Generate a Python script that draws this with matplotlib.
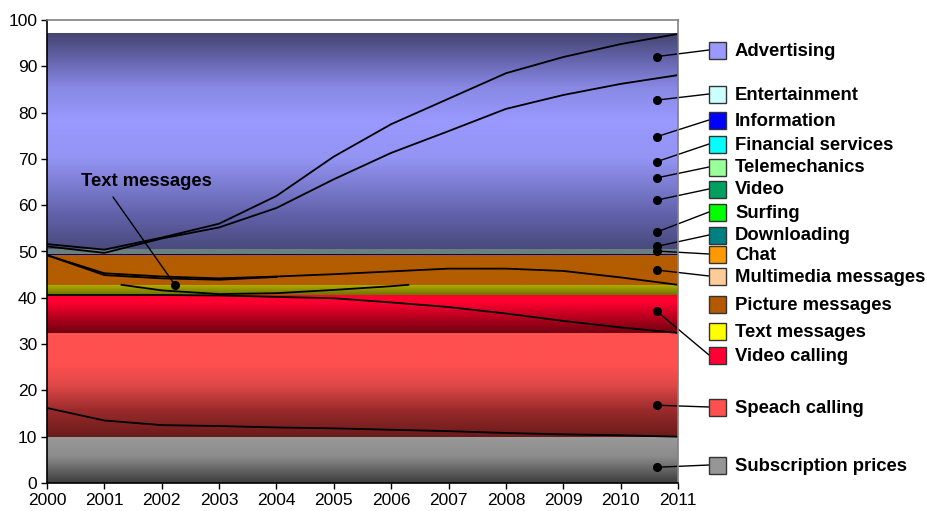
import numpy as np
import matplotlib
matplotlib.use("Agg")
import matplotlib.pyplot as plt
from matplotlib.colors import LinearSegmentedColormap
from matplotlib.patches import Rectangle

plt.rcParams['font.family'] = ['Liberation Sans', 'DejaVu Sans']

years = np.arange(2000, 2012)

# service lines (share, %)
adv_upper = [51.6, 50.4, 53.0, 56.0, 62.0, 70.5, 77.5, 83.0, 88.5, 92.0, 94.8, 97.0]
adv_lower = [51.1, 49.7, 52.8, 55.2, 59.4, 65.6, 71.3, 76.0, 80.8, 83.8, 86.2, 88.1]
picture_msgs = [49.2, 45.3, 44.6, 44.2, 44.6, 45.1, 45.7, 46.3, 46.3, 45.8, 44.4, 42.8]
picture_msgs_2 = [49.2, 44.9, 44.2, 43.9, 44.5, np.nan, np.nan, np.nan, np.nan, np.nan, np.nan, np.nan]
text_years = [2001.3, 2002, 2003, 2004, 2005, 2006, 2006.3]
text_msgs = [42.8, 41.6, 40.8, 41.0, 41.7, 42.5, 42.8]
video_calling = [40.6, 40.6, 40.6, 40.5, 40.2, 39.9, 39.0, 38.0, 36.6, 35.0, 33.6, 32.4]
speach_calling = [16.2, 13.5, 12.5, 12.3, 12.0, 11.8, 11.5, 11.2, 10.8, 10.5, 10.3, 10.0]

# background bands: (bottom, top, gradient stops bottom -> top)
bands = [
    (0.0, 10.0, [(0, '#3c3c3c'), (0.55, '#8a8a8a'), (1, '#9a9a9a')]),
    (10.0, 32.3, [(0, '#6a1a1a'), (0.25, '#982a2a'), (0.5, '#e04848'), (0.7, '#ff5050'), (1, '#ff5050')]),
    (32.3, 40.6, [(0, '#6e0010'), (0.45, '#c00020'), (0.8, '#ff0030'), (1, '#ff0030')]),
    (40.6, 42.8, [(0, '#6e7000'), (1, '#b4b400')]),
    (42.8, 49.2, [(0, '#b45c00'), (1, '#b45c00')]),
    (49.2, 49.5, [(0, '#000080'), (1, '#000080')]),
    (49.5, 50.5, [(0, '#6a8080'), (1, '#6a8080')]),
    (50.5, 97.0, [(0, '#4a4a7e'), (0.15, '#6060a8'), (0.42, '#9494f4'), (0.6, '#9999ff'),
                  (0.75, '#8888e4'), (0.88, '#6464ac'), (1, '#444470')]),
]

# legend entries: label, colour, dot value (None = no leader), label y in pixels
legend_labels = ['Advertising', 'Entertainment', 'Information', 'Financial services',
                 'Telemechanics', 'Video', 'Surfing', 'Downloading', 'Chat',
                 'Multimedia messages', 'Picture messages', 'Text messages',
                 'Video calling', 'Speach calling', 'Subscription prices']
legend_colors = ['#9999ff', '#ccffff', '#0000ff', '#00ffff', '#99ff99', '#00a060',
                 '#00ff00', '#008080', '#ff9900', '#ffcc99', '#b35900', '#ffff00',
                 '#ff0033', '#ff5050', '#969696']
dot_values = [92.1, 82.7, 74.8, 69.4, 65.9, 61.1, 54.2, 51.1, 50.1, 46.0,
              None, None, 37.1, 16.8, 3.4]
legend_y = [50, 94, 120, 144, 167, 189, 212, 235, 254, 276, 304, 331, 355, 407, 465]
dot_x = 2010.63

fig = plt.figure(figsize=(9.28, 5.11), dpi=100)
ax = fig.add_axes([47 / 928, 28 / 511, 631 / 928, 463 / 511])
ax.set_xlim(2000, 2011)
ax.set_ylim(0, 100)

for lo, hi, stops in bands:
    cmap = LinearSegmentedColormap.from_list('band', stops)
    grad = np.linspace(0, 1, 256).reshape(-1, 1)
    ax.imshow(grad, cmap=cmap, origin='lower', aspect='auto',
              extent=[2000, 2011, lo, hi], interpolation='bilinear', zorder=1)

line_kw = dict(color='black', lw=1.3, zorder=3)
ax.plot(years, adv_upper, **line_kw)
ax.plot(years, adv_lower, **line_kw)
ax.vlines(2011, adv_lower[-1], adv_upper[-1], colors='black', lw=1.3, zorder=3)
ax.plot(years, picture_msgs, **line_kw)
ax.plot(years, picture_msgs_2, **line_kw)
ax.plot(text_years, text_msgs, **line_kw)
ax.plot(years, video_calling, **line_kw)
ax.plot(years, speach_calling, **line_kw)

# leaders from dots to legend boxes
H = 511
for lab, col, val, ly in zip(legend_labels, legend_colors, dot_values, legend_y):
    fig.add_artist(Rectangle((709, H - ly - 8.5), 17, 17, transform=None,
                             facecolor=col, edgecolor='#333333', lw=1.0))
    fig.text(735 / 928, (H - ly - 1) / H, lab, fontsize=13.3, fontweight='bold',
             va='center', ha='left')
    if val is not None:
        ax.plot(dot_x, val, 'o', color='black', ms=5.5, zorder=5, clip_on=False)
        ax.annotate('', xy=(dot_x, val), xycoords='data',
                    xytext=(709, H - ly), textcoords='figure pixels',
                    arrowprops=dict(arrowstyle='-', color='black', lw=1.0,
                                    shrinkA=0, shrinkB=0), zorder=4)

# callout for text messages
ax.plot(2002.23, 42.8, 'o', color='black', ms=5.5, zorder=5)
ax.annotate('', xy=(2002.23, 42.8), xycoords='data',
            xytext=(113, H - 197), textcoords='figure pixels',
            arrowprops=dict(arrowstyle='-', color='black', lw=1.0,
                            shrinkA=0, shrinkB=0), zorder=4)
fig.text(146 / 928, (H - 182) / H, 'Text messages', fontsize=13.3,
         fontweight='bold', ha='center', va='center')

ax.set_xticks(years)
ax.set_xticklabels([str(y) for y in years], fontsize=12.5)
ax.set_yticks(np.arange(0, 101, 10))
ax.set_yticklabels([str(v) for v in range(0, 101, 10)], fontsize=12.5)
ax.tick_params(axis='both', direction='out', length=4, width=1, pad=3)
ax.spines['left'].set_color('black')
ax.spines['bottom'].set_color('black')
ax.spines['top'].set_color('#808080')
ax.spines['right'].set_color('#808080')
for s in ax.spines.values():
    s.set_linewidth(1.2)
    s.set_zorder(6)

fig.savefig('out.png', dpi=100)
